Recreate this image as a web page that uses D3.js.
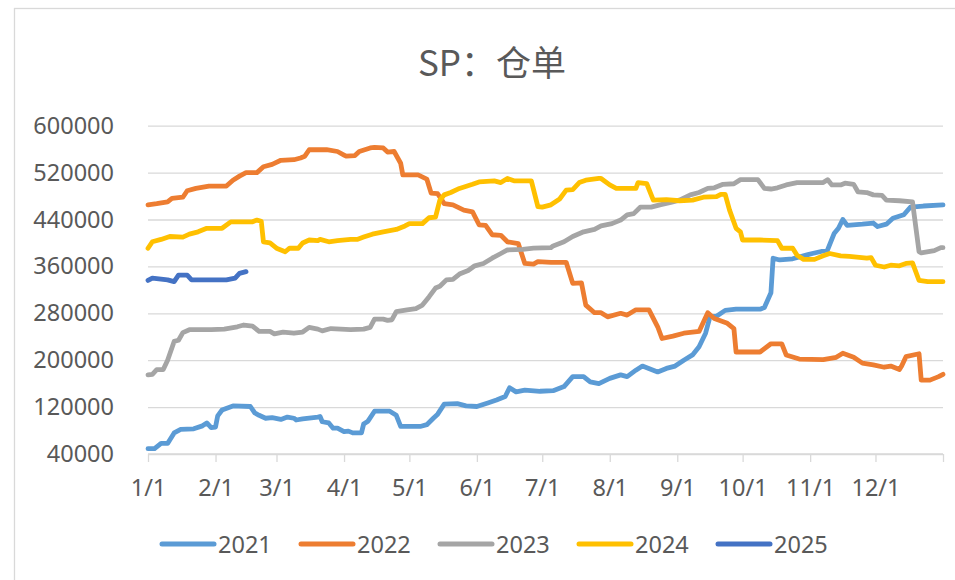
<!DOCTYPE html>
<html>
<head>
<meta charset="utf-8">
<script src="https://cdn.jsdelivr.net/npm/d3@7"></script>
<style>
  body { margin: 0; background: #fff; }
  text { font-family: "Noto Sans", "Noto Sans CJK SC", sans-serif; fill: #595959; }
</style>
</head>
<body>
<script>
// day of year (0 = 1/1) and warehouse receipt volume
const s2021 = [[0,49000],[3,49000],[6,58000],[9,58000],[12,76000],[15,82000],[21,83000],[25,88000],[27,93000],[29,85000],[31,86000],[32,105000],[34,115000],[39,122000],[47,121000],[49,110000],[51,106000],[54,101000],[57,102000],[61,99000],[64,103000],[67,101000],[68,98000],[71,100000],[78,103000],[79,104000],[80,95000],[83,93000],[85,84000],[87,84000],[90,78000],[92,79000],[94,76000],[98,76000],[99,91000],[101,96000],[104,113000],[111,113000],[114,106000],[116,87000],[125,87000],[128,90000],[131,101000],[133,108000],[136,125000],[142,126000],[146,122000],[151,121000],[156,127000],[160,132000],[164,138000],[166,153000],[169,146000],[173,149000],[180,147000],[186,148000],[191,155000],[195,172000],[200,172000],[203,163000],[207,160000],[212,169000],[217,175000],[220,172000],[224,183000],[227,190000],[234,180000],[238,186000],[242,190000],[246,200000],[250,209000],[253,223000],[256,246000],[258,274000],[261,275000],[265,285000],[270,287000],[281,287000],[283,290000],[286,315000],[287,374000],[290,371000],[296,373000],[303,380000],[305,382000],[312,388000],[315,416000],[317,425000],[319,440000],[321,430000],[328,432000],[333,434000],[335,428000],[339,432000],[342,442000],[347,448000],[350,461000],[356,463000],[365,465000]];

const s2022 = [[0,465000],[4,467000],[9,470000],[11,476000],[16,478000],[18,489000],[22,493000],[28,497000],[36,497000],[39,507000],[42,514000],[45,520000],[50,520000],[53,530000],[57,534000],[61,541000],[67,542000],[70,545000],[72,548000],[74,559000],[82,559000],[87,556000],[90,550000],[91,548000],[95,549000],[97,556000],[102,562000],[104,563000],[108,562000],[110,555000],[113,556000],[116,536000],[117,516000],[124,516000],[128,509000],[130,485000],[133,484000],[136,467000],[140,465000],[145,456000],[149,453000],[152,431000],[155,430000],[158,414000],[162,413000],[165,402000],[170,399000],[173,365000],[177,364000],[179,368000],[185,367000],[192,367000],[195,331000],[199,332000],[201,294000],[205,281000],[208,281000],[211,274000],[217,280000],[220,277000],[224,286000],[230,286000],[234,257000],[236,237000],[241,241000],[246,246000],[253,249000],[257,281000],[260,271000],[266,263000],[269,254000],[270,214000],[281,214000],[286,228000],[291,228000],[293,209000],[299,202000],[310,201000],[316,205000],[319,212000],[324,205000],[328,195000],[333,192000],[338,188000],[341,190000],[345,184000],[346,190000],[348,206000],[354,211000],[355,166000],[359,166000],[363,172000],[365,176000]];

const s2023 = [[0,175000],[2,176000],[4,184000],[7,184000],[9,200000],[12,232000],[14,234000],[16,247000],[19,252000],[29,252000],[35,253000],[41,257000],[44,260000],[48,258000],[51,249000],[56,249000],[58,245000],[62,248000],[67,246000],[71,248000],[74,256000],[78,253000],[80,250000],[84,254000],[93,252000],[99,253000],[102,256000],[104,270000],[108,270000],[110,268000],[112,269000],[114,283000],[119,286000],[123,288000],[126,294000],[129,308000],[132,323000],[134,326000],[137,337000],[140,338000],[143,347000],[147,353000],[150,361000],[154,365000],[158,374000],[162,382000],[165,388000],[172,389000],[177,391000],[185,392000],[186,395000],[191,402000],[195,411000],[200,419000],[205,423000],[208,429000],[213,433000],[217,439000],[220,448000],[223,450000],[226,461000],[231,461000],[235,465000],[240,469000],[244,473000],[249,482000],[253,486000],[257,493000],[260,494000],[264,500000],[269,501000],[272,508000],[280,508000],[283,493000],[286,492000],[289,494000],[293,499000],[298,503000],[302,503000],[310,503000],[312,508000],[314,499000],[318,499000],[320,502000],[324,500000],[326,487000],[330,486000],[333,482000],[337,481000],[339,473000],[345,472000],[351,470000],[354,385000],[355,383000],[361,387000],[364,392000],[365,392000]];

const s2024 = [[0,391000],[2,402000],[6,406000],[10,411000],[16,410000],[19,415000],[23,419000],[27,425000],[34,425000],[38,436000],[48,436000],[50,439000],[52,437000],[53,402000],[56,400000],[59,391000],[63,385000],[65,391000],[69,391000],[71,400000],[74,405000],[78,404000],[79,406000],[83,402000],[87,404000],[93,406000],[96,406000],[99,410000],[103,415000],[108,419000],[114,423000],[118,429000],[120,433000],[126,433000],[129,443000],[132,444000],[134,473000],[136,482000],[139,486000],[143,493000],[149,500000],[152,504000],[159,506000],[162,503000],[165,510000],[168,506000],[176,506000],[179,462000],[181,461000],[185,465000],[189,475000],[192,490000],[195,491000],[198,503000],[201,507000],[207,510000],[208,510000],[212,499000],[215,493000],[224,493000],[225,503000],[229,501000],[232,473000],[238,474000],[244,472000],[250,473000],[255,478000],[261,479000],[263,483000],[265,483000],[267,456000],[270,425000],[272,419000],[273,405000],[281,405000],[289,404000],[291,391000],[296,391000],[298,379000],[301,372000],[306,372000],[310,378000],[313,382000],[318,378000],[322,377000],[330,374000],[332,375000],[334,362000],[338,359000],[341,362000],[345,361000],[348,365000],[351,366000],[354,336000],[358,334000],[365,334000]];

const s2025 = [[0,336000],[2,340000],[9,337000],[12,334000],[14,345000],[18,345000],[20,337000],[36,337000],[40,340000],[42,348000],[45,351000]];

const seriesNames = ["2021", "2022", "2023", "2024", "2025"];
const seriesData = [s2021, s2022, s2023, s2024, s2025];
const colors = ["#5B9BD5", "#ED7D31", "#A5A5A5", "#FFC000", "#4472C4"];

const monthStarts = [0, 31, 59, 90, 120, 151, 181, 212, 243, 273, 304, 334, 365];
const monthLabels = ["1/1", "2/1", "3/1", "4/1", "5/1", "6/1", "7/1", "8/1", "9/1", "10/1", "11/1", "12/1"];
const yTicks = [40000, 120000, 200000, 280000, 360000, 440000, 520000, 600000];

const width = 955;
const height = 580;
const plotLeft = 148, plotRight = 943, plotTop = 125.7, plotBottom = 454;

const svg = d3.select("body")
    .append("svg")
    .attr("width", width)
    .attr("height", height);

// chart frame (right and bottom edges fall outside the picture)
svg.append("rect")
    .attr("x", 14.5)
    .attr("y", 8.5)
    .attr("width", 1000)
    .attr("height", 700)
    .attr("fill", "#fff")
    .attr("stroke", "#d9d9d9")
    .attr("stroke-width", 1.3);

svg.append("text")
    .attr("x", 492)
    .attr("y", 76)
    .attr("text-anchor", "middle")
    .style("font-family", "'Noto Sans CJK SC', sans-serif")
    .style("font-size", "35px")
    .text("SP：仓单");

const x = d3.scaleLinear().domain([0, 365]).range([plotLeft, plotRight]);
const y = d3.scaleLinear().domain([40000, 600000]).range([plotBottom, plotTop]);

// y gridlines + labels
const yAxis = svg.append("g")
    .attr("transform", `translate(${plotLeft},0)`)
    .call(d3.axisLeft(y).tickValues(yTicks).tickSize(-(plotRight - plotLeft)).tickPadding(34).tickFormat(d3.format("d")));
yAxis.select(".domain").remove();
yAxis.selectAll("line").attr("stroke", "#d9d9d9").attr("stroke-width", 1.3);
yAxis.selectAll("text").style("font-size", "23.5px").attr("fill", "#595959");

// x axis with month ticks
const xAxis = svg.append("g")
    .attr("transform", `translate(0,${plotBottom})`)
    .call(d3.axisBottom(x).tickValues(monthStarts).tickSize(8).tickPadding(17)
        .tickFormat((d, i) => monthLabels[i] || ""));
xAxis.select(".domain").attr("stroke", "#d9d9d9").attr("stroke-width", 1.3).attr("d", `M${plotLeft},0H${plotRight}`);
xAxis.selectAll("line").attr("stroke", "#d9d9d9").attr("stroke-width", 1.3);
xAxis.selectAll("text").style("font-size", "23.5px").attr("fill", "#595959");

const line = d3.line()
    .x(d => x(d[0]))
    .y(d => y(d[1]));

svg.append("g")
    .selectAll("path")
    .data(seriesData)
    .join("path")
    .attr("d", line)
    .attr("fill", "none")
    .attr("stroke", (d, i) => colors[i])
    .attr("stroke-width", 4.8)
    .attr("stroke-linejoin", "round")
    .attr("stroke-linecap", "round");

// legend
const legend = svg.append("g")
    .selectAll("g")
    .data(seriesNames)
    .join("g")
    .attr("transform", (d, i) => `translate(${162 + i * 139},544)`);

legend.append("line")
    .attr("x1", 0)
    .attr("x2", 52)
    .attr("stroke", (d, i) => colors[i])
    .attr("stroke-width", 5)
    .attr("stroke-linecap", "round");

legend.append("text")
    .attr("x", 56)
    .attr("y", 8.5)
    .style("font-size", "23.5px")
    .text(d => d);
</script>
</body>
</html>
